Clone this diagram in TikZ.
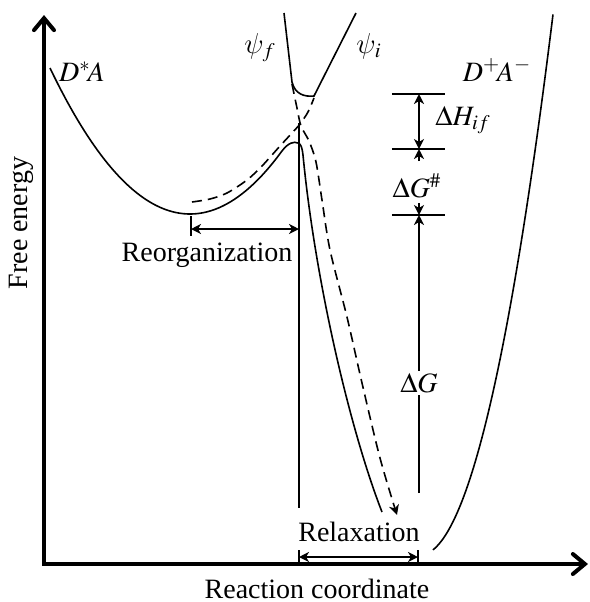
\documentclass[tikz,border=0pt]{standalone}
\usepackage{mathptmx}
\usepackage[no-math]{fontspec}
\setmainfont{Liberation Serif}
\usetikzlibrary{arrows.meta}
\DeclareSymbolFont{cmletters}{OML}{cmm}{m}{it}
\DeclareMathSymbol{\cmpsi}{\mathord}{cmletters}{"20}

\tikzset{
    curve/.style={line width=0.8pt},
    diabat/.style={line width=0.8pt, dash pattern=on 5pt off 3pt},
    axis/.style={line width=2pt, {Straight Barb[length=6pt,width=10pt,line cap=round]}-{Straight Barb[length=6pt,width=10pt,line cap=round]}},
    dimline/.style={line width=0.8pt},
    dimarrow/.style={line width=0.8pt, -{Stealth[length=5pt,width=5pt,inset=1.5pt]}},
    dimboth/.style={line width=0.8pt, {Stealth[length=5pt,width=5pt,inset=1.5pt]}-{Stealth[length=5pt,width=5pt,inset=1.5pt]}},
    lbl/.style={font=\fontsize{14}{17}\selectfont, inner sep=1pt},
}

\begin{document}
\begin{tikzpicture}[x=0.5pt, y=-0.5pt]
    \useasboundingbox (0,0) rectangle (590,602);

    % Axes
    \draw[axis] (44,15) -- (44,564) -- (588,564);
    \node[lbl, rotate=90] (yaxis) at (21,223) {Free energy};
    \node[lbl] (xaxis) at (317,589) {Reaction coordinate};

    % Lower adiabatic surface (D*A well, avoided crossing, descent)
    \draw[curve] plot[domain=50:282, samples=60] (\x, {214-((\x-190)*0.0863)^2})
        .. controls (288,143) and (294,141) .. (298,143)
        .. controls (301,144) and (302,147) .. (303,155)
        .. controls (315,280) and (350,430) .. (382,512);

    % Upper adiabatic surface
    \draw[curve] (284,13) -- (292,82) .. controls (295,94) and (304,97) .. (314,96) -- (356,13);

    % Diabatic curves (dashed)
    \draw[diabat] plot[smooth] coordinates {(192,202) (210,199) (227,193) (247,180) (262,166) (280,146) (292,133) (300,124) (308,112) (314,98)};
    \draw[diabat, -{Stealth[length=5pt,width=5pt,inset=1.5pt]}] plot[smooth] coordinates {(292,84) (297,108) (301,126) (309,141) (316,162) (322,200) (330,250) (347,317) (362,383) (380,458) (397,515)};

    % D+A- well
    \draw[curve] plot[domain=433:553, samples=60] (\x, {555-((\x-420)*0.1748)^2});

    % Curve labels
    \node[lbl] (dstara) at (82,72) {$D^{*}\!A$};
    \node[lbl] (psif) at (260,48) {$\cmpsi_f$};
    \node[lbl] (psii) at (369,46) {$\cmpsi_i$};
    \node[lbl] (dpam) at (497,70) {$D^{+}\!A^{-}$};

    % Crossing point and vertical marker
    \coordinate (cross) at (299,123);
    \coordinate (crossfoot) at (299,508);
    \draw[dimline] (cross) -- (crossfoot);

    % Reorganization
    \coordinate (wellmin) at (191,216);
    \coordinate (wellbar) at (191,236);
    \coordinate (reorgL) at (191,229);
    \coordinate (reorgR) at (299,229);
    \draw[dimline] (wellmin) -- (wellbar);
    \draw[dimboth] (reorgL) -- (reorgR);
    \node[lbl] (reorg) at (207,255) {Reorganization};

    % Energy levels
    \draw[dimline] (392,94) coordinate (lvlHa) -- (445,94);
    \draw[dimline] (392,149) coordinate (lvlHb) -- (445,149);
    \draw[dimline] (392,215) coordinate (lvlG) -- (445,215);
    \coordinate (hTop) at (419,94);
    \coordinate (hBot) at (419,149);
    \coordinate (gTop) at (419,215);
    \coordinate (gBot) at (419,493);
    \coordinate (gsA) at (419,161);
    \coordinate (gsB) at (419,203);

    % Delta H_if
    \draw[dimboth] (hTop) -- (hBot);
    \node[lbl, anchor=west] (dh) at (433,120) {$\Delta H_{if}$};

    % Delta G#
    \draw[dimarrow] (gsA) -- (hBot);
    \draw[dimarrow] (gsB) -- (gTop);
    \node[lbl] (dgs) at (417,186) {$\Delta G^{\#}$};

    % Delta G
    \draw[dimarrow] (gBot) -- (gTop);
    \node[lbl, fill=white] (dg) at (419,383) {$\Delta G$};

    % Relaxation
    \coordinate (relL) at (299,557);
    \coordinate (relR) at (418,557);
    \draw[dimline] (299,550) -- (299,563);
    \draw[dimline] (418,550) -- (418,563);
    \draw[dimboth] (relL) -- (relR);
    \node[lbl] (relax) at (359,532) {Relaxation};
\end{tikzpicture}
\end{document}
